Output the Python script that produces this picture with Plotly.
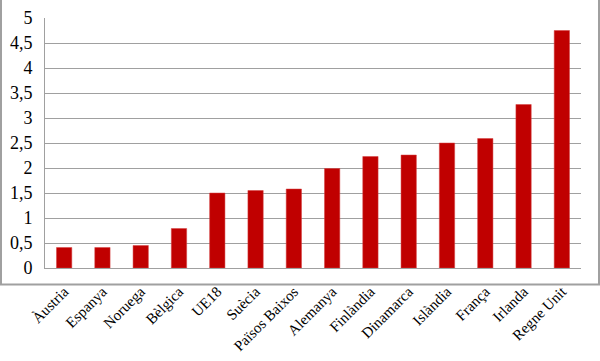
import plotly.graph_objects as go

categories = ["Àustria", "Espanya", "Noruega", "Bèlgica", "UE18", "Suècia",
              "Països Baixos", "Alemanya", "Finlàndia", "Dinamarca", "Islàndia",
              "França", "Irlanda", "Regne Unit"]
values = [0.41, 0.41, 0.45, 0.79, 1.50, 1.55, 1.58, 1.99, 2.23, 2.26, 2.50, 2.59, 3.27, 4.75]

L, R, T, B = 45, 19, 18, 93
W, H = 600, 361
pw, ph = W - L - R, H - T - B

fig = go.Figure(go.Bar(
    x=categories, y=values,
    marker=dict(color="#C00000", line=dict(color="#D44040", width=0.5)),
    width=0.4,
))

fig.update_layout(
    width=W, height=H,
    margin=dict(l=L, r=R, t=T, b=B, pad=0, autoexpand=False),
    paper_bgcolor="white", plot_bgcolor="white",
    separators=", ",
    showlegend=False,
    font=dict(family="Liberation Serif", color="black"),
    bargap=0.6,
)
fig.update_xaxes(
    tickangle=-45, tickfont=dict(size=15, family="Liberation Serif", color="black"),
    showline=True, linecolor="#a0a0a0", linewidth=1,
    showgrid=False, ticks="", ticklabelstandoff=8, automargin=False,
)
fig.update_yaxes(
    range=[0, 5], dtick=0.5, tick0=0,
    tickfont=dict(size=18, family="Liberation Serif", color="black"),
    showgrid=True, gridcolor="#a0a0a0", gridwidth=1,
    showline=True, linecolor="#a0a0a0", linewidth=1,
    zeroline=False, ticks="", ticklabelstandoff=8, automargin=False,
)

fig.add_shape(
    type="rect", xref="paper", yref="paper",
    x0=(1 - L) / pw, x1=(W - 1 - L) / pw,
    y0=(H - T - (H - 1.5)) / ph, y1=(H - T - 1) / ph,
    line=dict(color="#a0a0a0", width=2), layer="above",
)

fig.write_html("out.html")
